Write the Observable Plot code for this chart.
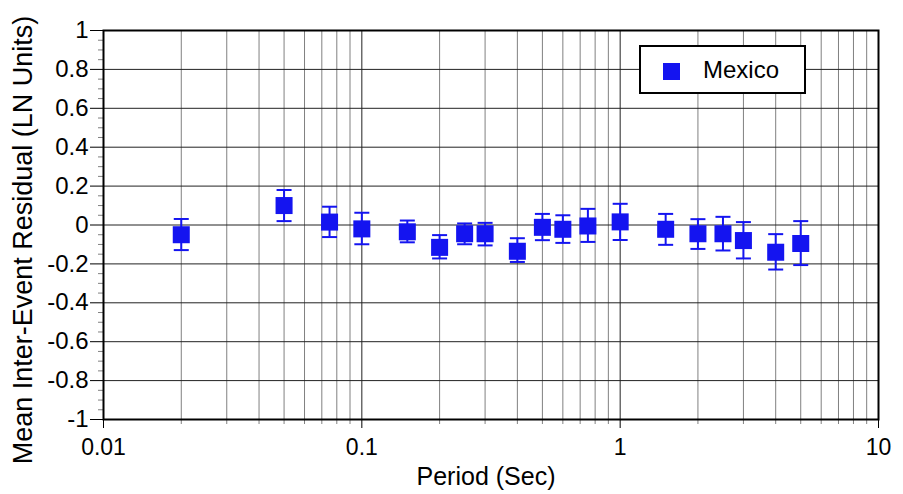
<!DOCTYPE html>
<html>
<head>
<meta charset="utf-8">
<script src="https://cdn.jsdelivr.net/npm/d3@7"></script>
<script src="https://cdn.jsdelivr.net/npm/@observablehq/plot@0.6"></script>
<style>
  html, body { margin: 0; padding: 0; background: white; }
  #wrap { position: relative; width: 903px; height: 494px; font-family: "Liberation Sans", Arial, Helvetica, sans-serif; }
  #legend { position: absolute; left: 639px; top: 45px; width: 163px; height: 45px; border: 2px solid black; background: white; }
  #legend .sw { position: absolute; left: 22px; top: 16px; width: 17px; height: 17px; background: #1414f0; }
  #legend .lb { position: absolute; left: 62px; top: 9px; font-size: 24px; line-height: 28px; color: black; }
</style>
</head>
<body>
<div id="wrap"></div>
<script>
// ---- data ----
const period = [0.02, 0.05, 0.075, 0.1, 0.15, 0.2, 0.25, 0.3, 0.4, 0.5, 0.6, 0.75, 1.0, 1.5, 2.0, 2.5, 3.0, 4.0, 5.0];
const meanResidual = [-0.05, 0.10, 0.015, -0.02, -0.035, -0.115, -0.045, -0.045, -0.135, -0.012, -0.022, -0.005, 0.016, -0.022, -0.045, -0.045, -0.08, -0.14, -0.095];
const upperBar = [0.031, 0.18, 0.094, 0.063, 0.023, -0.052, 0.008, 0.011, -0.068, 0.057, 0.05, 0.083, 0.109, 0.057, 0.030, 0.042, 0.015, -0.047, 0.02];
const lowerBar = [-0.129, 0.02, -0.062, -0.099, -0.089, -0.172, -0.099, -0.105, -0.19, -0.078, -0.092, -0.087, -0.077, -0.102, -0.123, -0.131, -0.172, -0.229, -0.206];
const seriesName = "Mexico";

// ---- axis ticks ----
const xMajorTicks = [0.01, 0.1, 1, 10];
const xMinorTicks = [0.02, 0.03, 0.04, 0.05, 0.06, 0.07, 0.08, 0.09,
                     0.2, 0.3, 0.4, 0.5, 0.6, 0.7, 0.8, 0.9,
                     2, 3, 4, 5, 6, 7, 8, 9];
const yMajorTicks = [1, 0.8, 0.6, 0.4, 0.2, 0, -0.2, -0.4, -0.6, -0.8, -1];
const yMinorTicks = [0.95, 0.9, 0.85, 0.75, 0.7, 0.65, 0.55, 0.5, 0.45, 0.35, 0.3, 0.25, 0.15, 0.1, 0.05,
                     -0.05, -0.1, -0.15, -0.25, -0.3, -0.35, -0.45, -0.5, -0.55, -0.65, -0.7, -0.75, -0.85, -0.9, -0.95];

const data = period.map((p, i) => ({period: p, mean: meanResidual[i], hi: upperBar[i], lo: lowerBar[i]}));
const blue = "#1414f0";
const capSymbol = { draw(ctx) { ctx.moveTo(-7.5, 0); ctx.lineTo(7.5, 0); } };
const noLabel = () => "";

const chart = Plot.plot({
  width: 903,
  height: 494,
  marginLeft: 103,
  marginRight: 25,
  marginTop: 30,
  marginBottom: 75,
  style: { fontFamily: "'Liberation Sans', Arial, Helvetica, sans-serif", fontSize: "22px", color: "black", background: "white" },
  x: { type: "log", domain: [0.01, 10] },
  y: { domain: [-1, 1] },
  marks: [
    Plot.ruleX(xMinorTicks, { stroke: "#808080", strokeWidth: 1 }),
    Plot.ruleX(xMajorTicks, { stroke: "#222", strokeWidth: 1 }),
    Plot.ruleY(yMajorTicks, { stroke: "#222", strokeWidth: 1 }),
    Plot.axisX({ ticks: xMinorTicks, tickSize: 5, tickFormat: noLabel, label: null, stroke: "#808080" }),
    Plot.axisX({ ticks: xMajorTicks, tickSize: 9, tickPadding: 10, tickFormat: d => String(d), label: null, fontSize: 23 }),
    Plot.axisY({ ticks: yMinorTicks, tickSize: 5, tickFormat: noLabel, label: null, stroke: "#808080" }),
    Plot.axisY({ ticks: yMajorTicks, tickSize: 13, tickPadding: 2, tickFormat: d => String(d), label: null, fontSize: 24 }),
    Plot.frame({ stroke: "black", strokeWidth: 2 }),
    Plot.ruleX(data, { x: "period", y1: "lo", y2: "hi", stroke: blue, strokeWidth: 2 }),
    Plot.dot(data, { x: "period", y: "hi", symbol: capSymbol, stroke: blue, strokeWidth: 2, r: 5 }),
    Plot.dot(data, { x: "period", y: "lo", symbol: capSymbol, stroke: blue, strokeWidth: 2, r: 5 }),
    Plot.dot(data, { x: "period", y: "mean", symbol: "square", fill: blue, stroke: "none", r: 9.6 }),
    Plot.text(["Period (Sec)"], { frameAnchor: "bottom", textAnchor: "middle", dy: 65, fontSize: 25, lineAnchor: "bottom", dx: -5 }),
    Plot.text(["Mean Inter-Event Residual (LN Units)"], { frameAnchor: "left", textAnchor: "middle", rotate: -90, dx: -80, dy: 15, fontSize: 27, lineAnchor: "middle" })
  ]
});
document.getElementById("wrap").appendChild(chart);

const legend = document.createElement("div");
legend.id = "legend";
legend.innerHTML = `<div class="sw"></div><div class="lb">${seriesName}</div>`;
document.getElementById("wrap").appendChild(legend);
</script>
</body>
</html>
